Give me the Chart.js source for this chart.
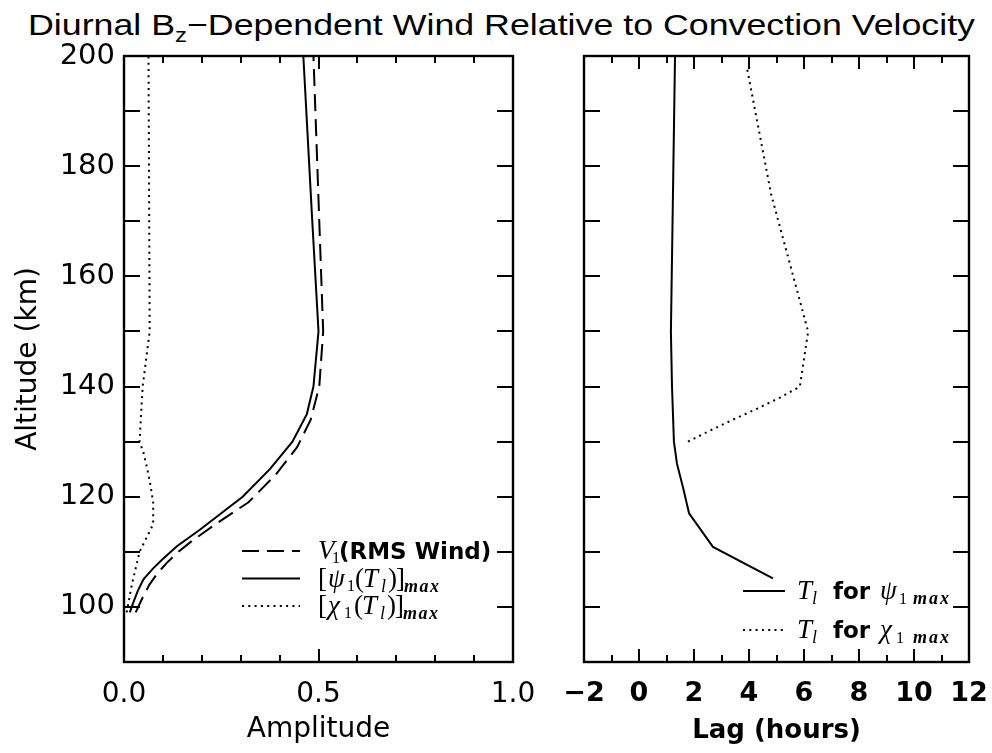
<!DOCTYPE html>
<html><head><meta charset="utf-8">
<script src="https://cdn.jsdelivr.net/npm/chart.js@4.4.1/dist/chart.umd.min.js"></script>
<style>
html,body{margin:0;padding:0;background:#fff;}
#wrap{position:relative;width:992px;height:753px;overflow:hidden;background:#fff;}
#title{position:absolute;left:28px;top:5px;white-space:nowrap;font-family:"Liberation Sans",Arial,sans-serif;font-size:30px;color:#000;transform-origin:0 0;line-height:40px;}
#title sub{font-size:20px;vertical-align:-7px;line-height:0}
canvas{position:absolute;top:0}
#c1{left:0}
#c2{left:540px}
</style></head><body>
<div id="wrap">
<div id="title">Diurnal B<sub>z</sub>−Dependent Wind Relative to Convection Velocity</div>
<canvas id="c1" width="540" height="753"></canvas>
<canvas id="c2" width="452" height="753"></canvas>
</div>
<script>
// ---------- data ----------
// Left panel: amplitude vs altitude (km)
const v1Alt   = [99, 102, 104, 106, 108, 110, 112, 115, 119, 124, 129, 134, 140, 150, 200];
const v1Amp   = [0.03, 0.05, 0.065, 0.085, 0.11, 0.14, 0.175, 0.235, 0.32, 0.39, 0.445, 0.48, 0.502, 0.512, 0.487];
const psiAlt  = [99, 101, 103, 105, 107, 108.5, 111, 114, 120, 125, 130, 135, 140, 150, 170, 200];
const psiAmp  = [0.015, 0.025, 0.036, 0.05, 0.075, 0.097, 0.136, 0.195, 0.305, 0.375, 0.433, 0.47, 0.487, 0.5, 0.484, 0.461];
const chiAlt  = [99, 104, 110, 115, 119, 122.5, 125, 128, 130, 140, 150, 200];
const chiAmp  = [0.007, 0.02, 0.04, 0.075, 0.075, 0.067, 0.06, 0.05, 0.04, 0.048, 0.066, 0.063];
// Right panel: lag (hours) vs altitude (km)
const psiLagAlt = [105.2, 110.9, 117, 121.7, 126, 130, 140, 150, 200];
const psiLag    = [4.87, 2.69, 1.82, 1.6, 1.38, 1.27, 1.2, 1.16, 1.31];
const chiLagAlt = [130, 132, 134, 136, 138, 140, 150, 175, 198];
const chiLag    = [1.78, 2.58, 3.42, 4.3, 5.13, 5.85, 6.15, 4.8, 3.92];
// Tick labels / tick positions
const altTickLabels   = [100, 120, 140, 160, 180, 200];
const altTickMarks    = [100, 110, 120, 130, 140, 150, 160, 170, 180, 190];
const ampTickLabels   = [0.0, 0.5, 1.0];
const ampMajorMarks   = [0.5];
const ampMinorMarks   = [0.1, 0.2, 0.3, 0.4, 0.6, 0.7, 0.8, 0.9];
const lagTickLabels   = [-2, 0, 2, 4, 6, 8, 10, 12];
const lagMajorMarks   = [0, 2, 4, 6, 8, 10];
const lagMinorMarks   = [-1, 1, 3, 5, 7, 9, 11];

const pts = (xs, ys) => xs.map((x, i) => ({x: x, y: ys[i]}));

// ---------- plugins ----------
const frameTicks = {
  id: 'frameTicks',
  afterDatasetsDraw(chart, args, o) {
    const {ctx, chartArea: a, scales: {x, y}} = chart;
    ctx.save();
    ctx.strokeStyle = '#000'; ctx.lineWidth = 2; ctx.lineCap = 'butt'; ctx.setLineDash([]);
    ctx.beginPath();
    const xt = (vals, len) => vals.forEach(v => {
      const p = Math.round(x.getPixelForValue(v));
      ctx.moveTo(p, a.bottom); ctx.lineTo(p, a.bottom - len);
      ctx.moveTo(p, a.top); ctx.lineTo(p, a.top + len);
    });
    xt(o.xMajor, o.majorLen); xt(o.xMinor, o.minorLen);
    o.yMarks.forEach(v => {
      const p = Math.round(y.getPixelForValue(v));
      ctx.moveTo(a.left, p); ctx.lineTo(a.left + o.yLen, p);
      ctx.moveTo(a.right, p); ctx.lineTo(a.right - o.yLen, p);
    });
    ctx.stroke();
    ctx.lineWidth = 2.4;
    ctx.strokeRect(a.left, a.top, a.right - a.left, a.bottom - a.top);
    ctx.restore();
  }
};

const richLegend = {
  id: 'richLegend',
  afterDraw(chart, args, o) {
    const ctx = chart.ctx, a = chart.chartArea;
    o.items.forEach((it, i) => {
      const ds = chart.data.datasets[it.dataset];
      const y = a.bottom - o.bottomOffset - (o.items.length - 1 - i) * o.rowGap;
      const x1 = a.right - o.sampleRight - o.sampleLen, x2 = a.right - o.sampleRight;
      ctx.save();
      ctx.strokeStyle = '#000'; ctx.lineWidth = ds.borderWidth; ctx.lineCap = 'butt';
      ctx.setLineDash(ds.borderDash || []);
      ctx.beginPath(); ctx.moveTo(x1, y); ctx.lineTo(x2, y); ctx.stroke();
      ctx.setLineDash([]);
      ctx.fillStyle = '#000'; ctx.textBaseline = 'alphabetic'; ctx.textAlign = 'left';
      const x0 = x2 + o.textGap;
      let x = x0;
      it.segs.forEach(s => {
        ctx.font = s.f;
        if (s.ox !== undefined) x = x0 + s.ox;
        const ls = s.ls || 0;
        for (const ch of s.t) {
          ctx.fillText(ch, x, y + o.base + (s.dy || 0));
          x += ctx.measureText(ch).width + ls;
        }
      });
      ctx.restore();
    });
  }
};

const SER = '"Liberation Serif", "DejaVu Serif", serif';
const SAN = '"DejaVu Sans", "Liberation Sans", sans-serif';
const fIt = 'italic 27px ' + SER, fRm = '27px ' + SER, fSub = '16px ' + SER,
      fSubIt = 'italic 18px ' + SER, fMax = 'italic bold 18px ' + SER,
      fSans = 'bold 23px ' + SAN, fFor = 'bold 23px ' + SAN;

function lineDs(label, data, dash) {
  return {label, data, showLine: true, borderColor: '#000', backgroundColor: '#000',
    borderWidth: 2, borderDash: dash, borderCapStyle: 'butt', pointRadius: 0, fill: false, tension: 0};
}

Chart.defaults.color = '#000';
Chart.defaults.font.family = SAN;

const noSidePad = s => { s.paddingLeft = 0; s.paddingRight = 0; };

// ---------- left chart ----------
new Chart(document.getElementById('c1'), {
  type: 'scatter',
  data: {datasets: [
    lineDs('V1(RMS Wind)', pts(v1Amp, v1Alt), [17, 8]),
    lineDs('[psi1(Tl)]max', pts(psiAmp, psiAlt), []),
    lineDs('[chi1(Tl)]max', pts(chiAmp, chiAlt), [2, 4.3])
  ]},
  options: {
    responsive: false, animation: false, events: [],
    layout: {padding: {top: 56, right: 27, left: 0, bottom: 0}},
    plugins: {
      legend: {display: false}, tooltip: {enabled: false},
      frameTicks: {xMajor: ampMajorMarks, xMinor: ampMinorMarks, majorLen: 13, minorLen: 7, yMarks: altTickMarks, yLen: 16},
      richLegend: {bottomOffset: 56, rowGap: 27.5, sampleRight: 213, sampleLen: 58, textGap: 18, base: 8,
        items: [
          {dataset: 0, segs: [{t: 'V', f: fIt, ox: 0}, {t: '1', f: fSub, dy: 4, ox: 14}, {t: '(RMS Wind)', f: fSans, ox: 21}]},
          {dataset: 1, segs: [{t: '[', f: fRm, ox: 0}, {t: 'ψ', f: fIt, ox: 10}, {t: '1', f: fSub, dy: 4, ox: 29}, {t: '(', f: fRm, ox: 37}, {t: 'T', f: fIt, ox: 45}, {t: 'l', f: fSubIt, dy: 5, ox: 63}, {t: ')', f: fRm, ox: 70}, {t: ']', f: fRm, ox: 78}, {t: 'max', f: fMax, dy: 5, ox: 86, ls: 1.5}]},
          {dataset: 2, segs: [{t: '[', f: fRm, ox: 0}, {t: 'χ', f: fIt, ox: 10}, {t: '1', f: fSub, dy: 4, ox: 26}, {t: '(', f: fRm, ox: 36}, {t: 'T', f: fIt, ox: 44}, {t: 'l', f: fSubIt, dy: 5, ox: 62}, {t: ')', f: fRm, ox: 69}, {t: ']', f: fRm, ox: 77}, {t: 'max', f: fMax, dy: 5, ox: 85, ls: 1.5}]}
        ]}
    },
    scales: {
      x: {type: 'linear', min: 0, max: 1, position: 'bottom',
        afterBuildTicks: s => { s.ticks = ampTickLabels.map(v => ({value: v})); },
        afterFit: s => { s.height = 91; noSidePad(s); },
        grid: {display: false, drawTicks: false}, border: {display: false},
        ticks: {autoSkip: false, maxRotation: 0, padding: 16, font: {size: 28}, callback: v => Number(v).toFixed(1)},
        title: {display: true, text: 'Amplitude', font: {size: 28}, padding: {top: 0, bottom: 6}}
      },
      y: {type: 'linear', min: 90, max: 200,
        afterBuildTicks: s => { s.ticks = altTickLabels.map(v => ({value: v})); },
        afterFit: s => { s.width = 124; },
        grid: {display: false, drawTicks: false}, border: {display: false},
        ticks: {autoSkip: false, padding: 9, font: {size: 29}, callback: v => String(v)},
        title: {display: true, text: 'Altitude (km)', font: {size: 28}, padding: {top: 12, bottom: 0}}
      }
    }
  },
  plugins: [frameTicks, richLegend]
});

// ---------- right chart ----------
new Chart(document.getElementById('c2'), {
  type: 'scatter',
  data: {datasets: [
    lineDs('Tl for psi1 max', pts(psiLag, psiLagAlt), []),
    lineDs('Tl for chi1 max', pts(chiLag, chiLagAlt), [2, 4.3])
  ]},
  options: {
    responsive: false, animation: false, events: [],
    layout: {padding: {top: 56, right: 23, left: 44, bottom: 0}},
    plugins: {
      legend: {display: false}, tooltip: {enabled: false},
      frameTicks: {xMajor: lagMajorMarks, xMinor: lagMinorMarks, majorLen: 13, minorLen: 7, yMarks: altTickMarks, yLen: 16},
      richLegend: {bottomOffset: 32, rowGap: 39, sampleRight: 184, sampleLen: 42, textGap: 12, base: 8,
        items: [
          {dataset: 0, segs: [{t: 'T', f: fIt, ox: 0}, {t: 'l', f: fSubIt, dy: 5, ox: 15}, {t: 'for', f: fFor, ox: 36}, {t: 'ψ', f: fIt, ox: 83}, {t: '1', f: fSub, dy: 5, ox: 102}, {t: 'max', f: fMax, dy: 5, ox: 116, ls: 2}]},
          {dataset: 1, segs: [{t: 'T', f: fIt, ox: 0}, {t: 'l', f: fSubIt, dy: 5, ox: 15}, {t: 'for', f: fFor, ox: 36}, {t: 'χ', f: fIt, ox: 83}, {t: '1', f: fSub, dy: 5, ox: 99}, {t: 'max', f: fMax, dy: 5, ox: 116, ls: 2}]}
        ]}
    },
    scales: {
      x: {type: 'linear', min: -2, max: 12, position: 'bottom',
        afterBuildTicks: s => { s.ticks = lagTickLabels.map(v => ({value: v})); },
        afterFit: s => { s.height = 91; noSidePad(s); },
        grid: {display: false, drawTicks: false}, border: {display: false},
        ticks: {autoSkip: false, maxRotation: 0, padding: 16, font: {size: 27, weight: 'bold'}, callback: v => (v < 0 ? '−' + Math.abs(v) : String(v))},
        title: {display: true, text: 'Lag (hours)', font: {size: 26, weight: 'bold'}, padding: {top: 0, bottom: 6}}
      },
      y: {type: 'linear', min: 90, max: 200, display: false}
    }
  },
  plugins: [frameTicks, richLegend]
});

// fit the HTML title to the reference width
(function () {
  const t = document.getElementById('title');
  const w = t.getBoundingClientRect().width;
  if (w > 0) t.style.transform = 'scaleX(' + (947 / w) + ')';
})();
</script>
</body></html>
